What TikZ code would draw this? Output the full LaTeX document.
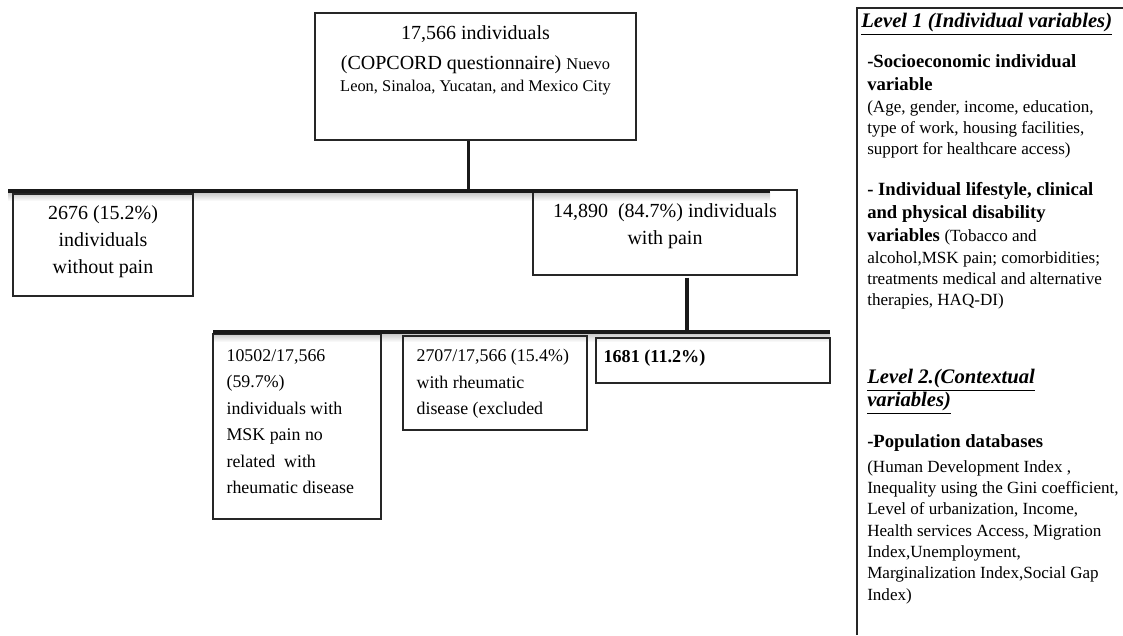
\documentclass[tikz,border=0pt]{standalone}
\usepackage{fontspec}
\setmainfont{Liberation Serif}
\usetikzlibrary{positioning, calc}

\begin{document}
\begin{tikzpicture}[
    x=0.75pt, y=-0.75pt,
    box/.style={rectangle, draw=black!85, line width=1pt, inner sep=0pt},
    txt/.style={inner sep=0pt, align=center, font=\fontsize{15}{20.25}\selectfont},
    smalltxt/.style={inner sep=0pt, align=left, anchor=north west, font=\fontsize{13.4}{19.9}\selectfont},
    bar/.style={line width=2.5pt, black!90},
    stem/.style={line width=1.6pt, black!90},
    shadowband/.style={top color=black!22, bottom color=white, draw=none},
    head/.style={inner sep=0pt, align=left, anchor=north west, font=\fontsize{15.5}{17.5}\selectfont\bfseries\itshape},
    var/.style={inner sep=0pt, align=left, anchor=north west, font=\fontsize{14}{17.25}\selectfont\bfseries},
    note/.style={inner sep=0pt, align=left, anchor=north west, font=\fontsize{12.8}{16}\selectfont}
]
\useasboundingbox (0,0) rectangle (1123,635);

% Bars
\coordinate (barone west) at (8,191);
\coordinate (barone east) at (770,191);
\coordinate (bartwo west) at (213,332);
\coordinate (bartwo east) at (830,332);
\shade[shadowband] (8,192.5) rectangle (770,201);
\shade[shadowband] (213,333.5) rectangle (830,342);

% Cohort
\node[box, minimum width=240.75pt, minimum height=95.25pt] (cohort) at (475.5,76.5) {};
\node[txt, below=10pt of cohort.north] (cohorttext) {17,566 individuals\\[2pt](COPCORD questionnaire) {\fontsize{12.3}{16.5}\selectfont Nuevo}\\[-3.5pt]{\fontsize{12.3}{16.5}\selectfont Leon, Sinaloa, Yucatan, and Mexico City}};

% First split
\node[box, minimum width=135pt, minimum height=76.5pt] (nopain) at (103,245) {};
\node[txt, below=9pt of nopain.north] (nopaintext) {2676 (15.2\%)\\individuals\\without pain};
\node[box, minimum width=198pt, minimum height=63.75pt] (pain) at (665,232.5) {};
\node[txt, below=10.5pt of pain.north] (paintext) {14,890\ \ (84.7\%) individuals\\with pain};

% Second split
\node[box, minimum width=126pt, minimum height=138.75pt] (mskpain) at (297,426.5) {};
\node[smalltxt] (msktext) at ([xshift=10.5pt, yshift=-11.8pt]mskpain.north west) {10502/17,566\\(59.7\%)\\individuals with\\MSK pain no\\related\ \ with\\rheumatic disease};
\node[box, minimum width=138pt, minimum height=70.5pt] (rheum) at (495,383) {};
\node[smalltxt] (rheumtext) at ([xshift=10.5pt, yshift=-10.3pt]rheum.north west) {2707/17,566 (15.4\%)\\with rheumatic\\disease (excluded};
\node[box, minimum width=175.5pt, minimum height=33.75pt] (final) at (713,360.5) {};
\node[smalltxt, font=\fontsize{13.6}{19.9}\selectfont\bfseries] (finaltext) at ([xshift=6pt, yshift=-9.5pt]final.north west) {1681 (11.2\%)};

% Connectors
\draw[stem] ([xshift=-5.25pt]cohort.south) -- ([xshift=-5.25pt]cohort.south |- barone west);
\draw[bar] (barone west) -- (barone east);
\draw[bar] ([xshift=16.5pt, yshift=-1.5pt]pain.south) -- ([xshift=16.5pt]pain.south |- bartwo west);
\draw[bar] (bartwo west) -- (bartwo east);

% Variables panel
\coordinate (panel top) at (857,8);
\draw[line width=1pt, black!85] (857,635) -- (panel top) -- (1123,8);
\node[head] (lvlone) at (861,13) {\underline{Level 1 (Individual variables)}};
\node[var] (socio) at (867,54) {-Socioeconomic individual\\variable};
\node[note] (sociovars) at (867,100) {(Age, gender, income, education,\\type of work, housing facilities,\\support for healthcare access)};
\node[var] (lifestyle) at (867,182) {- Individual lifestyle, clinical\\and physical disability\\variables {\mdseries\fontsize{12.8}{16}\selectfont (Tobacco and}};
\node[note] (lifestylevars) at (867,251) {alcohol,MSK pain; comorbidities;\\treatments medical and alternative\\therapies, HAQ-DI)};
\node[head] (lvltwo) at (867,369) {\underline{Level 2.(Contextual}\\\underline{variables)}};
\node[var] (population) at (867,434) {-Population databases};
\node[note] (popvars) at (867,460) {(Human Development Index ,\\Inequality using the Gini coefficient,\\Level of urbanization, Income,\\Health services Access, Migration\\Index,Unemployment,\\Marginalization Index,Social Gap\\Index)};

\end{tikzpicture}
\end{document}
